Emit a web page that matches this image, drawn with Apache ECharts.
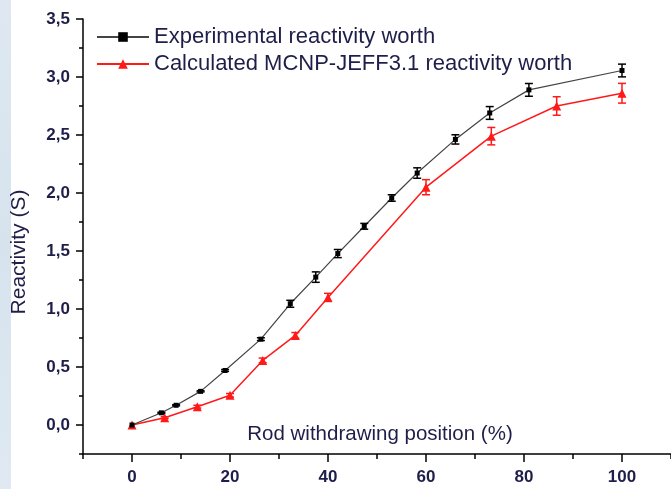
<!DOCTYPE html>
<html>
<head>
<meta charset="utf-8">
<script src="https://cdn.jsdelivr.net/npm/echarts@6/dist/echarts.min.js"></script>
<style>
  html, body {margin: 0; padding: 0; background: #fff;}
  #chart {width: 671px; height: 489px;}
</style>
</head>
<body>
<div id="chart"></div>
<script>
const expX = [0, 6, 9, 14, 19, 26.3, 32.3, 37.5, 42, 47.4, 53, 58.2, 66, 73, 81, 100]
const expY = [0, 0.105, 0.17, 0.29, 0.47, 0.74, 1.045, 1.275, 1.478, 1.713, 1.957, 2.172, 2.462, 2.69, 2.889, 3.056]
const expErr = [0, 0.005, 0.005, 0.005, 0.008, 0.012, 0.03, 0.045, 0.035, 0.025, 0.028, 0.045, 0.04, 0.055, 0.055, 0.055]

const calcX = [0, 6.67, 13.33, 20, 26.67, 33.33, 40, 60, 73.33, 86.67, 100]
const calcY = [0, 0.063, 0.158, 0.256, 0.557, 0.772, 1.1, 2.05, 2.49, 2.75, 2.86]
const calcErr = [0, 0.008, 0.012, 0.015, 0.02, 0.025, 0.035, 0.065, 0.075, 0.08, 0.085]

const xMajor = [0, 20, 40, 60, 80, 100]
const xMinor = [-10, 10, 30, 50, 70, 90, 110]
const yMajor = [0, 0.5, 1, 1.5, 2, 2.5, 3, 3.5]
const yMinor = [-0.25, 0.25, 0.75, 1.25, 1.75, 2.25, 2.75, 3.25]

const seriesNames = ['Experimental reactivity worth', 'Calculated MCNP-JEFF3.1 reactivity worth']

const font = "'Liberation Sans', Arial, sans-serif"
const labelColor = '#1e1e4a'
const black = '#000'
const red = '#ff1a1a'

const zip = (xs, ys) => xs.map((x, i) => [x, ys[i]])
const zip3 = (xs, ys, es) => xs.map((x, i) => [x, ys[i], es[i]])

const errorBars = (color) => (params, api) => {
  const x = api.value(0)
  const y = api.value(1)
  const e = api.value(2)
  if (!e) return null
  const top = api.coord([x, y + e])
  const bot = api.coord([x, y - e])
  const w = 4
  const style = {stroke: color, lineWidth: 1.5}
  return {
    type: 'group',
    children: [
      {type: 'line', shape: {x1: top[0], y1: top[1], x2: bot[0], y2: bot[1]}, style},
      {type: 'line', shape: {x1: top[0] - w, y1: top[1], x2: top[0] + w, y2: top[1]}, style},
      {type: 'line', shape: {x1: bot[0] - w, y1: bot[1], x2: bot[0] + w, y2: bot[1]}, style},
    ],
  }
}

const axisLine = {show: true, onZero: false, lineStyle: {color: black, width: 1.5}}
const hiddenLine = {show: false, onZero: false}

const option = {
  backgroundColor: '#fff',
  animation: false,
  textStyle: {fontFamily: font},
  grid: {left: 83, top: 19, width: 593, height: 435},
  legend: {
    orient: 'vertical',
    left: 91,
    top: 21,
    itemWidth: 52,
    itemHeight: 12,
    itemGap: 5,
    textStyle: {fontSize: 22, color: labelColor, fontFamily: font},
    data: seriesNames,
  },
  graphic: [
    {
      type: 'rect',
      left: 0,
      top: 0,
      shape: {width: 11, height: 489},
      style: {
        fill: new echarts.graphic.LinearGradient(0, 0, 0, 1, [
          {offset: 0, color: '#dfe8f0'},
          {offset: 0.5, color: '#d6e3ed'},
          {offset: 1, color: '#e0e9f1'},
        ]),
      },
      z: -1,
    },
    {
      type: 'text',
      x: 19,
      y: 252,
      rotation: Math.PI / 2,
      style: {
        text: 'Reactivity (S)',
        font: `21px ${font}`,
        fill: labelColor,
        align: 'center',
        verticalAlign: 'middle',
      },
    },
    {
      type: 'text',
      x: 380,
      y: 434,
      style: {
        text: 'Rod withdrawing position (%)',
        font: `20.5px ${font}`,
        fill: labelColor,
        align: 'center',
        verticalAlign: 'middle',
      },
    },
  ],
  xAxis: [
    {
      type: 'value',
      min: -10,
      max: 110,
      axisLine,
      splitLine: {show: false},
      axisTick: {customValues: xMajor, length: 8, lineStyle: {color: black, width: 1.5}},
      axisLabel: {
        customValues: xMajor,
        margin: 15,
        fontSize: 17,
        fontWeight: 'bold',
        color: labelColor,
        fontFamily: font,
      },
    },
    {
      type: 'value',
      min: -10,
      max: 110,
      position: 'bottom',
      axisLine: hiddenLine,
      splitLine: {show: false},
      axisTick: {customValues: xMinor, length: 5, lineStyle: {color: black, width: 1.5}},
      axisLabel: {show: false},
    },
  ],
  yAxis: [
    {
      type: 'value',
      min: -0.25,
      max: 3.5,
      axisLine,
      splitLine: {show: false},
      axisTick: {customValues: yMajor, length: 7, lineStyle: {color: black, width: 1.5}},
      axisLabel: {
        customValues: yMajor,
        margin: 13,
        fontSize: 17,
        fontWeight: 'bold',
        color: labelColor,
        fontFamily: font,
        formatter: v => v.toFixed(1).replace('.', ','),
      },
    },
    {
      type: 'value',
      min: -0.25,
      max: 3.5,
      position: 'left',
      axisLine: hiddenLine,
      splitLine: {show: false},
      axisTick: {customValues: yMinor, length: 4, lineStyle: {color: black, width: 1.5}},
      axisLabel: {show: false},
    },
  ],
  series: [
    {
      name: seriesNames[0],
      type: 'line',
      data: zip(expX, expY),
      symbol: 'rect',
      symbolSize: 5,
      itemStyle: {color: black},
      lineStyle: {color: '#444', width: 1.2},
      z: 3,
    },
    {
      name: seriesNames[1],
      type: 'line',
      data: zip(calcX, calcY),
      symbol: 'triangle',
      symbolSize: 9,
      itemStyle: {color: red},
      lineStyle: {color: red, width: 1.5},
      z: 2,
    },
    {
      type: 'custom',
      renderItem: errorBars(black),
      data: zip3(expX, expY, expErr),
      encode: {x: 0, y: 1},
      z: 4,
    },
    {
      type: 'custom',
      renderItem: errorBars(red),
      data: zip3(calcX, calcY, calcErr),
      encode: {x: 0, y: 1},
      z: 4,
    },
  ],
}

const chart = echarts.init(document.getElementById('chart'))
chart.setOption(option)
</script>
</body>
</html>
